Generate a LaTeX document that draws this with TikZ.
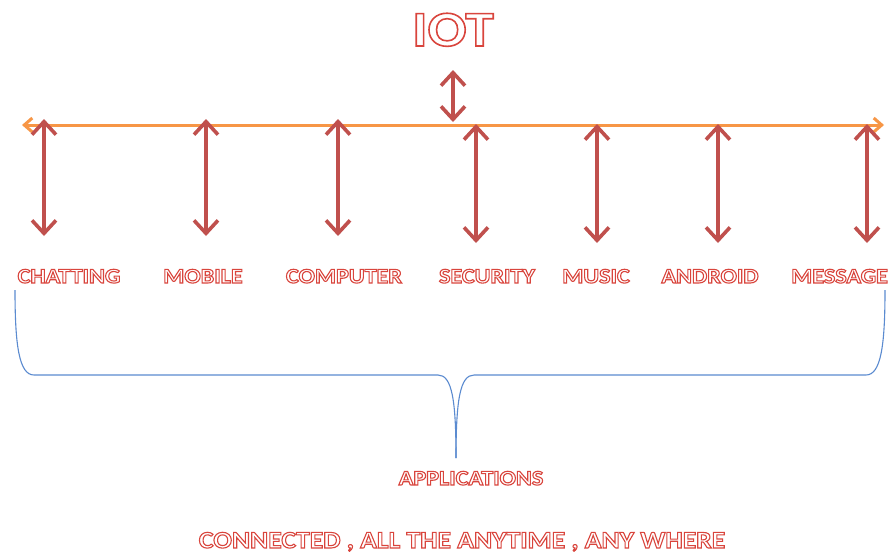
\documentclass[tikz,border=0pt]{standalone}
\usepackage{fontspec}
\setmainfont{Carlito}[FakeStretch=1.15]
\usetikzlibrary{arrows.meta}
\definecolor{darkred}{HTML}{C0504D}
\definecolor{orangeline}{HTML}{F79646}
\definecolor{braceblue}{HTML}{5B8BD0}
\newcommand{\outl}[2][1.1]{\textcolor{white}{\special{pdf:literal direct 2 Tr #1 w 0.85 0.27 0.24 RG}#2\special{pdf:literal direct 0 Tr}}}
\begin{document}
\begin{tikzpicture}[x=1pt,y=-1pt,
  vlink/.style={draw=darkred,line width=3.6pt,{Straight Barb[length=13pt,width=24pt]}-{Straight Barb[length=13pt,width=24pt]}},
  hline/.style={draw=orangeline,line width=3pt,{Straight Barb[length=8pt,width=14pt]}-{Straight Barb[length=8pt,width=14pt]}},
  lbl/.style={font=\bfseries\fontsize{21}{21}\selectfont,inner sep=0pt,anchor=base},
  bracestyle/.style={draw=braceblue,line width=1.1pt}]
\useasboundingbox (0,0) rectangle (888,554);
\fill[white] (0,0) rectangle (888,554);

% title
\node[font=\bfseries\fontsize{50}{50}\selectfont,inner sep=0pt,anchor=base] (iot) at (453,46) {\outl[1.6]{IOT}};
\coordinate (it) at (453,70);
\coordinate (ib) at (453,122);
\draw[vlink] (it) -- (ib);

% horizontal line
\coordinate (hl) at (22,125);
\coordinate (hr) at (884,125);
\draw[hline] (hl) -- (hr);

% vertical arrows
\foreach \n/\x/\t/\b in {a/44/119/236, b/206/119/236, c/338/119/236, d/476/124/243, e/597/124/243, f/718/124/243, g/867/124/243}{
  \coordinate (\n t) at (\x,\t);
  \coordinate (\n b) at (\x,\b);
  \draw[vlink] (\n t) -- (\n b);
}

% labels
\node[lbl] (chat) at (69,283) {\outl{CHATTING}};
\node[lbl] (mob) at (203,283) {\outl{MOBILE}};
\node[lbl] (comp) at (344,283) {\outl{COMPUTER}};
\node[lbl] (sec) at (487,283) {\outl{SECURITY}};
\node[lbl] (mus) at (596,283) {\outl{MUSIC}};
\node[lbl] (andr) at (710,283) {\outl{ANDROID}};
\node[lbl,anchor=base west] (msg) at (791,283) {\outl{MESSAGE}};

% brace
\coordinate (bl) at (15,290);
\coordinate (br) at (885,290);
\coordinate (bt) at (456,458);
\draw[bracestyle] (bl) .. controls (15,345) and (19,375) .. (34,375) -- (438,375)
  .. controls (452,375) and (456,400) .. (bt);
\draw[bracestyle] (bt) .. controls (456,400) and (460,375) .. (474,375) -- (866,375)
  .. controls (881,375) and (885,345) .. (br);

\node[lbl,font=\bfseries\fontsize{21}{21}\selectfont] (app) at (471,485) {\outl{APPLICATIONS}};
\node[lbl,font=\bfseries\fontsize{24}{24}\selectfont] (conn) at (462,548) {\outl{CONNECTED , ALL THE ANYTIME , ANY WHERE}};
\end{tikzpicture}
\end{document}
